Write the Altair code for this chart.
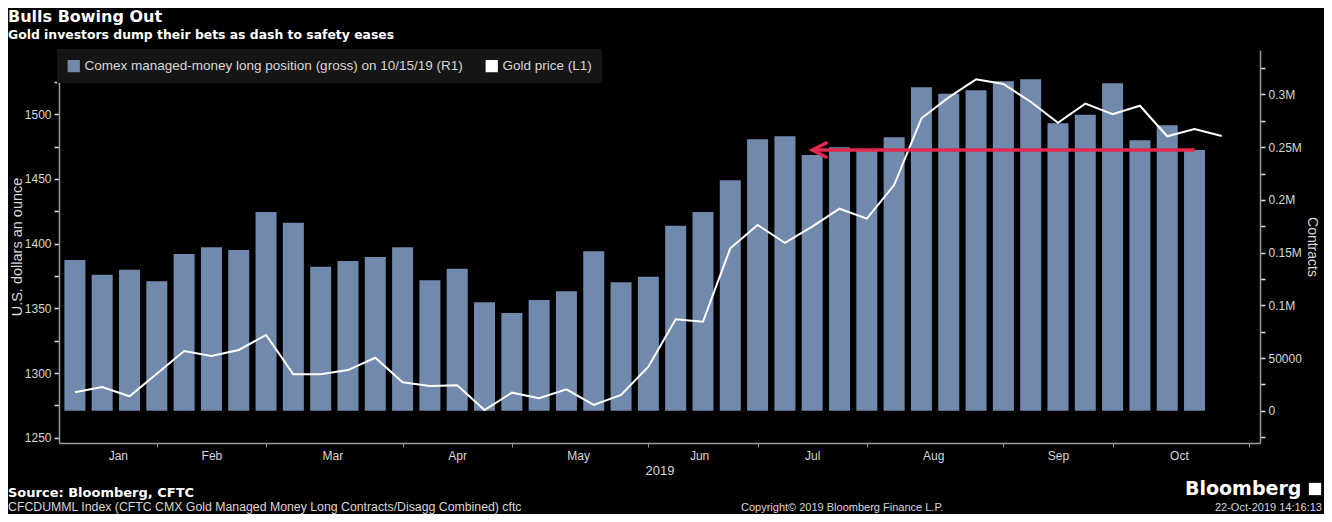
import altair as alt
import pandas as pd

# ---------------- data ----------------
bar_dates = [d.strftime("%Y-%m-%dT00:00:00") for d in pd.date_range("2019-01-01", "2019-10-15", freq="7D")]
contracts = [143000, 129000, 133800, 122800, 148700, 155000, 152500, 188500, 178400, 136600,
             142000, 145800, 155000, 123700, 134700, 102800, 92700, 105000, 113300, 151200,
             121800, 127100, 175500, 188500, 218600, 257500, 260400, 242600, 249900, 247300,
             259400, 306800, 300600, 304000, 312500, 314400, 272700, 280800, 310600, 256500,
             270800, 247300]

gold_dates = [d.strftime("%Y-%m-%dT00:00:00") for d in pd.date_range("2019-01-01", "2019-10-22", freq="7D")]
gold_price = [1285.1, 1289.2, 1282.0, 1299.5, 1317.0, 1313.2, 1317.8, 1329.4, 1299.0, 1299.0,
              1302.3, 1311.8, 1292.8, 1290.0, 1290.5, 1271.4, 1284.8, 1280.5, 1287.4, 1275.3,
              1283.0, 1304.9, 1341.5, 1339.7, 1396.4, 1414.4, 1400.7, 1413.1, 1427.0, 1419.3,
              1445.3, 1496.9, 1513.1, 1527.0, 1523.4, 1509.7, 1493.5, 1508.2, 1500.0, 1506.6,
              1483.0, 1488.6, 1483.2]

series_names = ["Comex managed-money long position (gross) on 10/15/19 (R1)", "Gold price (L1)"]
series_colors = ["#7089ad", "#ffffff"]

arrow_from = "2019-07-09T00:00:00"
arrow_to = "2019-10-15T00:00:00"

month_label_dates = [(1, 12), (2, 5), (3, 8), (4, 9), (5, 10), (6, 10), (7, 9), (8, 9), (9, 10), (10, 11)]
month_tick_dates = [(1, 22), (2, 19), (3, 26), (4, 23), (5, 28), (6, 25), (7, 23), (8, 27), (9, 24), (10, 29)]

title_text = "Bulls Bowing Out"
subtitle_text = "Gold investors dump their bets as dash to safety eases"
source_text = "Source: Bloomberg, CFTC"
index_text = "CFCDUMML Index (CFTC CMX Gold Managed Money Long Contracts/Disagg Combined) cftc"
copyright_text = "Copyright\u00a9 2019 Bloomberg Finance L.P."
stamp_text = "22-Oct-2019 14:16:13"

# ---------------- tables ----------------
bars_df = pd.DataFrame({"date": bar_dates, "contracts": contracts, "series": series_names[0]})
gold_df = pd.DataFrame({"date": gold_dates, "price": gold_price})
arrow_df = pd.DataFrame({"start": [arrow_from], "end": [arrow_to], "level": [contracts[-1]]})

FONT = "Liberation Sans"
AXIS_GREY = "#9a9a9a"
TEXT_GREY = "#d8d8d8"

x_scale = alt.Scale(domain=[alt.DateTime(year=2018, month=12, date=29, hours=5),
                            alt.DateTime(year=2019, month=10, date=30, hours=12)])
x_values = [alt.DateTime(year=2019, month=m, date=d) for m, d in month_label_dates + month_tick_dates]
x_axis = alt.Axis(
    values=x_values,
    labelExpr="date(datum.value) < 15 ? timeFormat(datum.value, '%b') : ''",
    tickOpacity={"condition": {"test": "date(datum.value) < 15", "value": 0}, "value": 1},
    title="2019", titleFont=FONT, titleFontSize=13, titleFontWeight="normal", titleColor=TEXT_GREY,
    titlePadding=3, labelFont=FONT, labelFontSize=12, labelColor=TEXT_GREY, labelPadding=3,
    tickSize=4, tickColor=AXIS_GREY, domainColor=AXIS_GREY, domainWidth=1.5, grid=False,
    labelAngle=0,
)

right_scale = alt.Scale(domain=[-30645, 342220], nice=False, zero=False)
left_scale = alt.Scale(domain=[1245.9, 1549.7], nice=False, zero=False)

right_axis = alt.Axis(
    orient="right", values=list(range(-25000, 350000, 25000)),
    labelExpr="datum.value >= 0 && datum.value % 50000 == 0 ? (datum.value >= 100000 ? (datum.value / 1000000) + 'M' : format(datum.value, 'd')) : ''",
    title="Contracts", titleAngle=90, titleFont=FONT, titleFontSize=14, titleFontWeight="normal",
    titleColor=TEXT_GREY, titlePadding=3,
    labelFont=FONT, labelFontSize=12, labelColor=TEXT_GREY, labelPadding=3,
    tickSize=5, tickColor="#dddddd", tickWidth=1.5, domainColor=AXIS_GREY, domainWidth=1.5, grid=False,
)
left_axis = alt.Axis(
    orient="left", values=list(range(1250, 1550, 25)),
    labelExpr="datum.value % 50 == 0 ? format(datum.value, 'd') : ''",
    title="U.S. dollars an ounce", titleFont=FONT, titleFontSize=14.5, titleFontWeight="normal",
    titleColor=TEXT_GREY, titlePadding=0,
    labelFont=FONT, labelFontSize=12, labelColor=TEXT_GREY, labelPadding=3,
    tickSize=5, tickColor="#dddddd", tickWidth=1.5, domainColor=AXIS_GREY, domainWidth=1.5, grid=False,
)

bars = alt.Chart(bars_df).mark_bar(size=21).encode(
    x=alt.X("date:T", scale=x_scale, axis=x_axis),
    y=alt.Y("contracts:Q", scale=right_scale, axis=right_axis),
    y2=alt.datum(0),
    color=alt.Color("series:N", scale=alt.Scale(domain=series_names, range=series_colors),
                    legend=alt.Legend(title=None, orient="none", legendX=-2, legendY=-1,
                                      direction="horizontal", fillColor="#151515", padding=10,
                                      symbolType="square", symbolSize=150, symbolStrokeWidth=0,
                                      labelColor=TEXT_GREY, labelFont=FONT, labelFontSize=13.5,
                                      labelLimit=0, columnPadding=22, labelOffset=4)),
)

gold = alt.Chart(gold_df).mark_line(color="#ffffff", strokeWidth=2).encode(
    x=alt.X("date:T", scale=x_scale, axis=x_axis),
    y=alt.Y("price:Q", scale=left_scale, axis=left_axis),
)

RED = "#e2294f"
arrow_line = alt.Chart(arrow_df).mark_rule(color=RED, strokeWidth=3.5).encode(
    x=alt.X("start:T", scale=x_scale, axis=x_axis),
    x2="end:T",
    y=alt.Y("level:Q", scale=right_scale, axis=None),
)
arrow_head = alt.Chart(arrow_df).mark_point(
    shape="M2,-1L0,0L2,1", size=196, filled=False, stroke=RED, strokeWidth=3.5, opacity=1,
    strokeCap="round", strokeJoin="miter",
).encode(
    x=alt.X("start:T", scale=x_scale, axis=x_axis),
    y=alt.Y("level:Q", scale=right_scale, axis=None),
)

one = alt.Data(values=[{}])
def note(text, x, y, size, weight="normal", color=TEXT_GREY, align="left", font=FONT):
    return alt.Chart(one).mark_text(text=text, align=align, baseline="alphabetic", font=font,
                                    fontSize=size, fontWeight=weight, color=color).encode(
        x=alt.value(x), y=alt.value(y))

source = note(source_text, -51, 447, 13, "bold", "#ffffff", font="DejaVu Sans")
index_note = note(index_text, -51, 461, 12.3)
copyright_note = note(copyright_text, 682, 461, 11)
stamp = note(stamp_text, 1263, 461, 11, align="right")
brand = note("Bloomberg", 1126, 445, 19, "bold", "#ffffff", font="DejaVu Sans")
brand_icon = alt.Chart(one).mark_square(size=150, color="#ffffff", opacity=1).encode(
    x=alt.value(1256), y=alt.value(439))

chart = alt.layer(
    bars, gold, arrow_line, arrow_head,
    source, index_note, copyright_note, stamp, brand, brand_icon,
).resolve_scale(y="independent").properties(
    width=1201, height=393,
    autosize=alt.AutoSizeParams(type="none"),
    padding={"left": 51, "top": 42, "right": 64, "bottom": 71},
    background="#000000",
    title=alt.Title(title_text, subtitle=subtitle_text, anchor="start", frame="group", dx=-51,
                    font="DejaVu Sans", fontSize=16, fontWeight="bold", color="#ffffff",
                    subtitleFont="DejaVu Sans", subtitleFontSize=12.4, subtitleFontWeight="bold",
                    subtitleColor="#ffffff", subtitlePadding=4, offset=8),
).configure_view(stroke="transparent")

chart.save("out.html", embed_options={"renderer": "svg", "actions": False})
